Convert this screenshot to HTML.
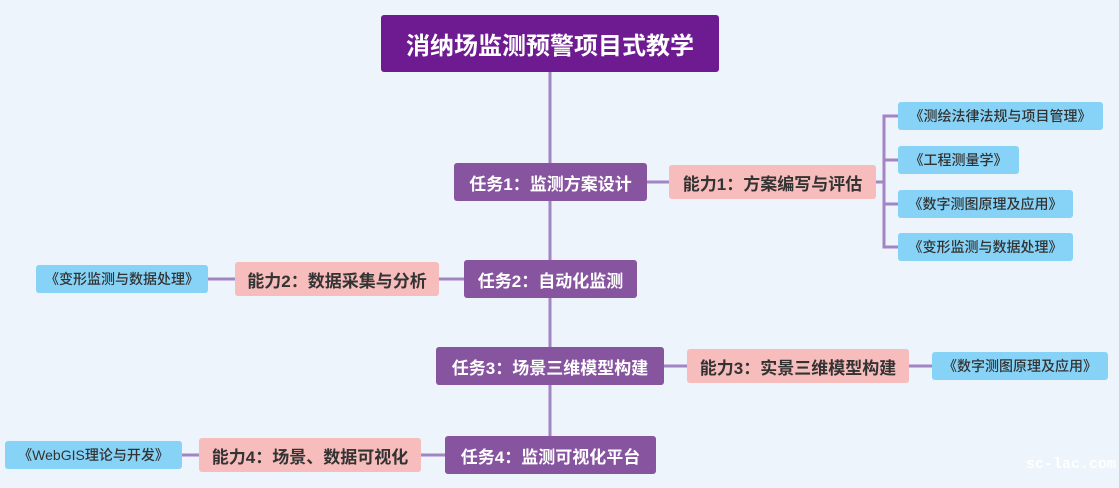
<!DOCTYPE html>
<html><head><meta charset="utf-8"><style>
body{margin:0;width:1119px;height:488px;background:#edf4fb;position:relative;overflow:hidden;font-family:"Liberation Sans","Noto Sans CJK SC",sans-serif}
.b{position:absolute;display:flex;align-items:center;justify-content:center;border-radius:3px;white-space:nowrap;box-sizing:border-box}
.r{background:#6e1b92;color:#fff;font-size:24px;font-weight:bold}
.t{background:#87559f;color:#fff;font-size:17px;font-weight:bold}
.a{background:#f7bcbc;color:#333;font-size:17px;font-weight:bold}
.k{background:#87d3f7;color:#333;font-size:14px;font-weight:500}
svg{position:absolute;left:0;top:0}
.w{position:absolute;left:1026px;top:456px;color:#fff;font-family:"Liberation Mono",monospace;font-size:15px;font-weight:bold}
</style></head><body>
<svg width="1119" height="488"><g stroke="#a384c4" stroke-width="3" fill="none">
<line x1="550" y1="72" x2="550" y2="436"/>
<line x1="647" y1="182" x2="669" y2="182"/>
<path d="M876 182H884M898 116H884V247H898M884 160H898M884 204H898"/>
<line x1="208" y1="279" x2="235" y2="279"/>
<line x1="439" y1="279" x2="464" y2="279"/>
<line x1="664" y1="366" x2="687" y2="366"/>
<line x1="909" y1="366" x2="932" y2="366"/>
<line x1="182" y1="455" x2="199" y2="455"/>
<line x1="421" y1="455" x2="445" y2="455"/>
</g></svg>
<div class="b r" style="left:381px;top:15px;width:338px;height:57px">消纳场监测预警项目式教学</div>
<div class="b t" style="left:454px;top:163px;width:193px;height:38px">任务1：监测方案设计</div>
<div class="b a" style="left:669px;top:165px;width:207px;height:34px">能力1：方案编写与评估</div>
<div class="b k" style="left:898px;top:102px;width:205px;height:28px">《测绘法律法规与项目管理》</div>
<div class="b k" style="left:898px;top:146px;width:121px;height:28px">《工程测量学》</div>
<div class="b k" style="left:898px;top:190px;width:175px;height:28px">《数字测图原理及应用》</div>
<div class="b k" style="left:898px;top:233px;width:175px;height:28px">《变形监测与数据处理》</div>
<div class="b t" style="left:464px;top:260px;width:173px;height:38px">任务2：自动化监测</div>
<div class="b a" style="left:235px;top:262px;width:204px;height:34px">能力2：数据采集与分析</div>
<div class="b k" style="left:36px;top:265px;width:172px;height:28px">《变形监测与数据处理》</div>
<div class="b t" style="left:436px;top:347px;width:228px;height:38px">任务3：场景三维模型构建</div>
<div class="b a" style="left:687px;top:349px;width:222px;height:34px">能力3：实景三维模型构建</div>
<div class="b k" style="left:932px;top:352px;width:176px;height:28px">《数字测图原理及应用》</div>
<div class="b t" style="left:445px;top:436px;width:211px;height:38px">任务4：监测可视化平台</div>
<div class="b a" style="left:199px;top:438px;width:222px;height:34px">能力4：场景、数据可视化</div>
<div class="b k" style="left:5px;top:441px;width:177px;height:28px">《WebGIS理论与开发》</div>
<div class="w">sc-lac.com</div>
</body></html>
